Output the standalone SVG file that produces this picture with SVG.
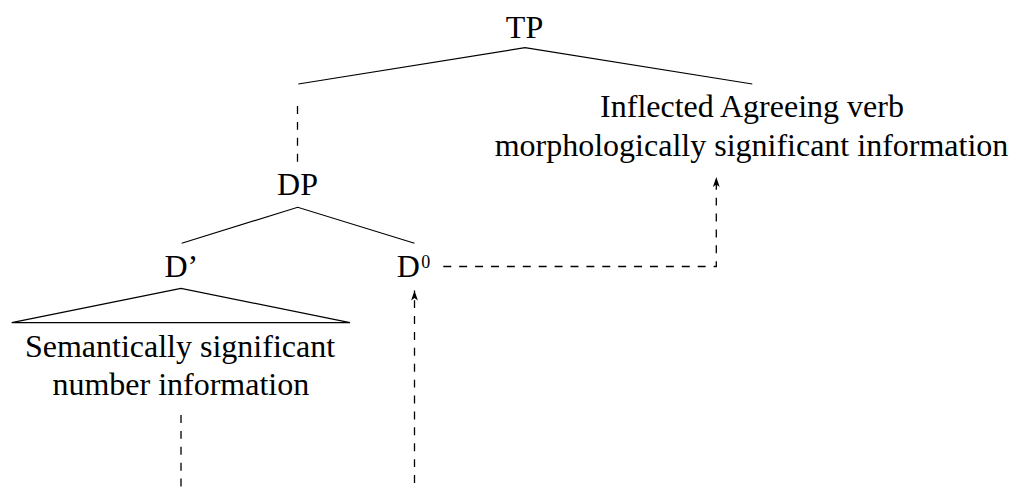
<svg xmlns="http://www.w3.org/2000/svg" width="1015" height="488" viewBox="0 0 1015 488">
  <style>
    text { font-family: "Liberation Serif", "Times New Roman", serif; font-size: 32px; fill: #000; }
    .mid { text-anchor: middle; }
    .sup { font-size: 18px; }
    .edge { stroke: #000; stroke-width: 1.2; fill: none; }
    .dash { stroke: #000; stroke-width: 1.3; fill: none; stroke-dasharray: 7.95 7.95; }
  </style>
  <defs>
    <marker id="arrow" markerUnits="userSpaceOnUse" markerWidth="12" markerHeight="10" viewBox="-11 -5 12 10" refX="0" refY="0" orient="auto">
      <path d="M0,0 L-10,-3.4 L-7.5,0 L-10,3.4 Z" fill="#000"/>
    </marker>
  </defs>
  <rect width="1015" height="488" fill="#fff"/>

  <g id="connectors">
    <polyline class="edge" points="298.3,84 525,47.7 752.3,84"/>
    <line class="dash" x1="297.5" y1="106" x2="297.5" y2="163"/>
    <polyline class="edge" points="181.7,243.3 297.7,207.3 414.5,243.3"/>
    <line class="dash" x1="181" y1="415" x2="181" y2="490"/>
    <line class="dash" x1="414.5" y1="483" x2="414.5" y2="290.5" marker-end="url(#arrow)"/>
    <polyline class="dash" points="443.3,266.5 716.3,266.5 716.3,177" marker-end="url(#arrow)"/>
  </g>

  <g id="node-TP">
    <text class="mid" x="524.5" y="37.5">TP</text>
  </g>
  <g id="node-verb">
    <text class="mid" x="752" y="117.3">Inflected Agreeing verb</text>
    <text class="mid" x="751.5" y="155.7">morphologically significant information</text>
  </g>
  <g id="node-DP">
    <text class="mid" x="297.5" y="195">DP</text>
  </g>
  <g id="node-Dbar">
    <text x="164.5" y="277">D’</text>
    <polygon class="edge" points="181,288.3 11.7,322.7 350,322.7"/>
    <text class="mid" x="180" y="356.7">Semantically significant</text>
    <text class="mid" x="180.8" y="395">number information</text>
  </g>
  <g id="node-D0">
    <text x="396.7" y="277.3">D</text>
    <text class="sup" x="421.2" y="267.5">0</text>
  </g>
</svg>
